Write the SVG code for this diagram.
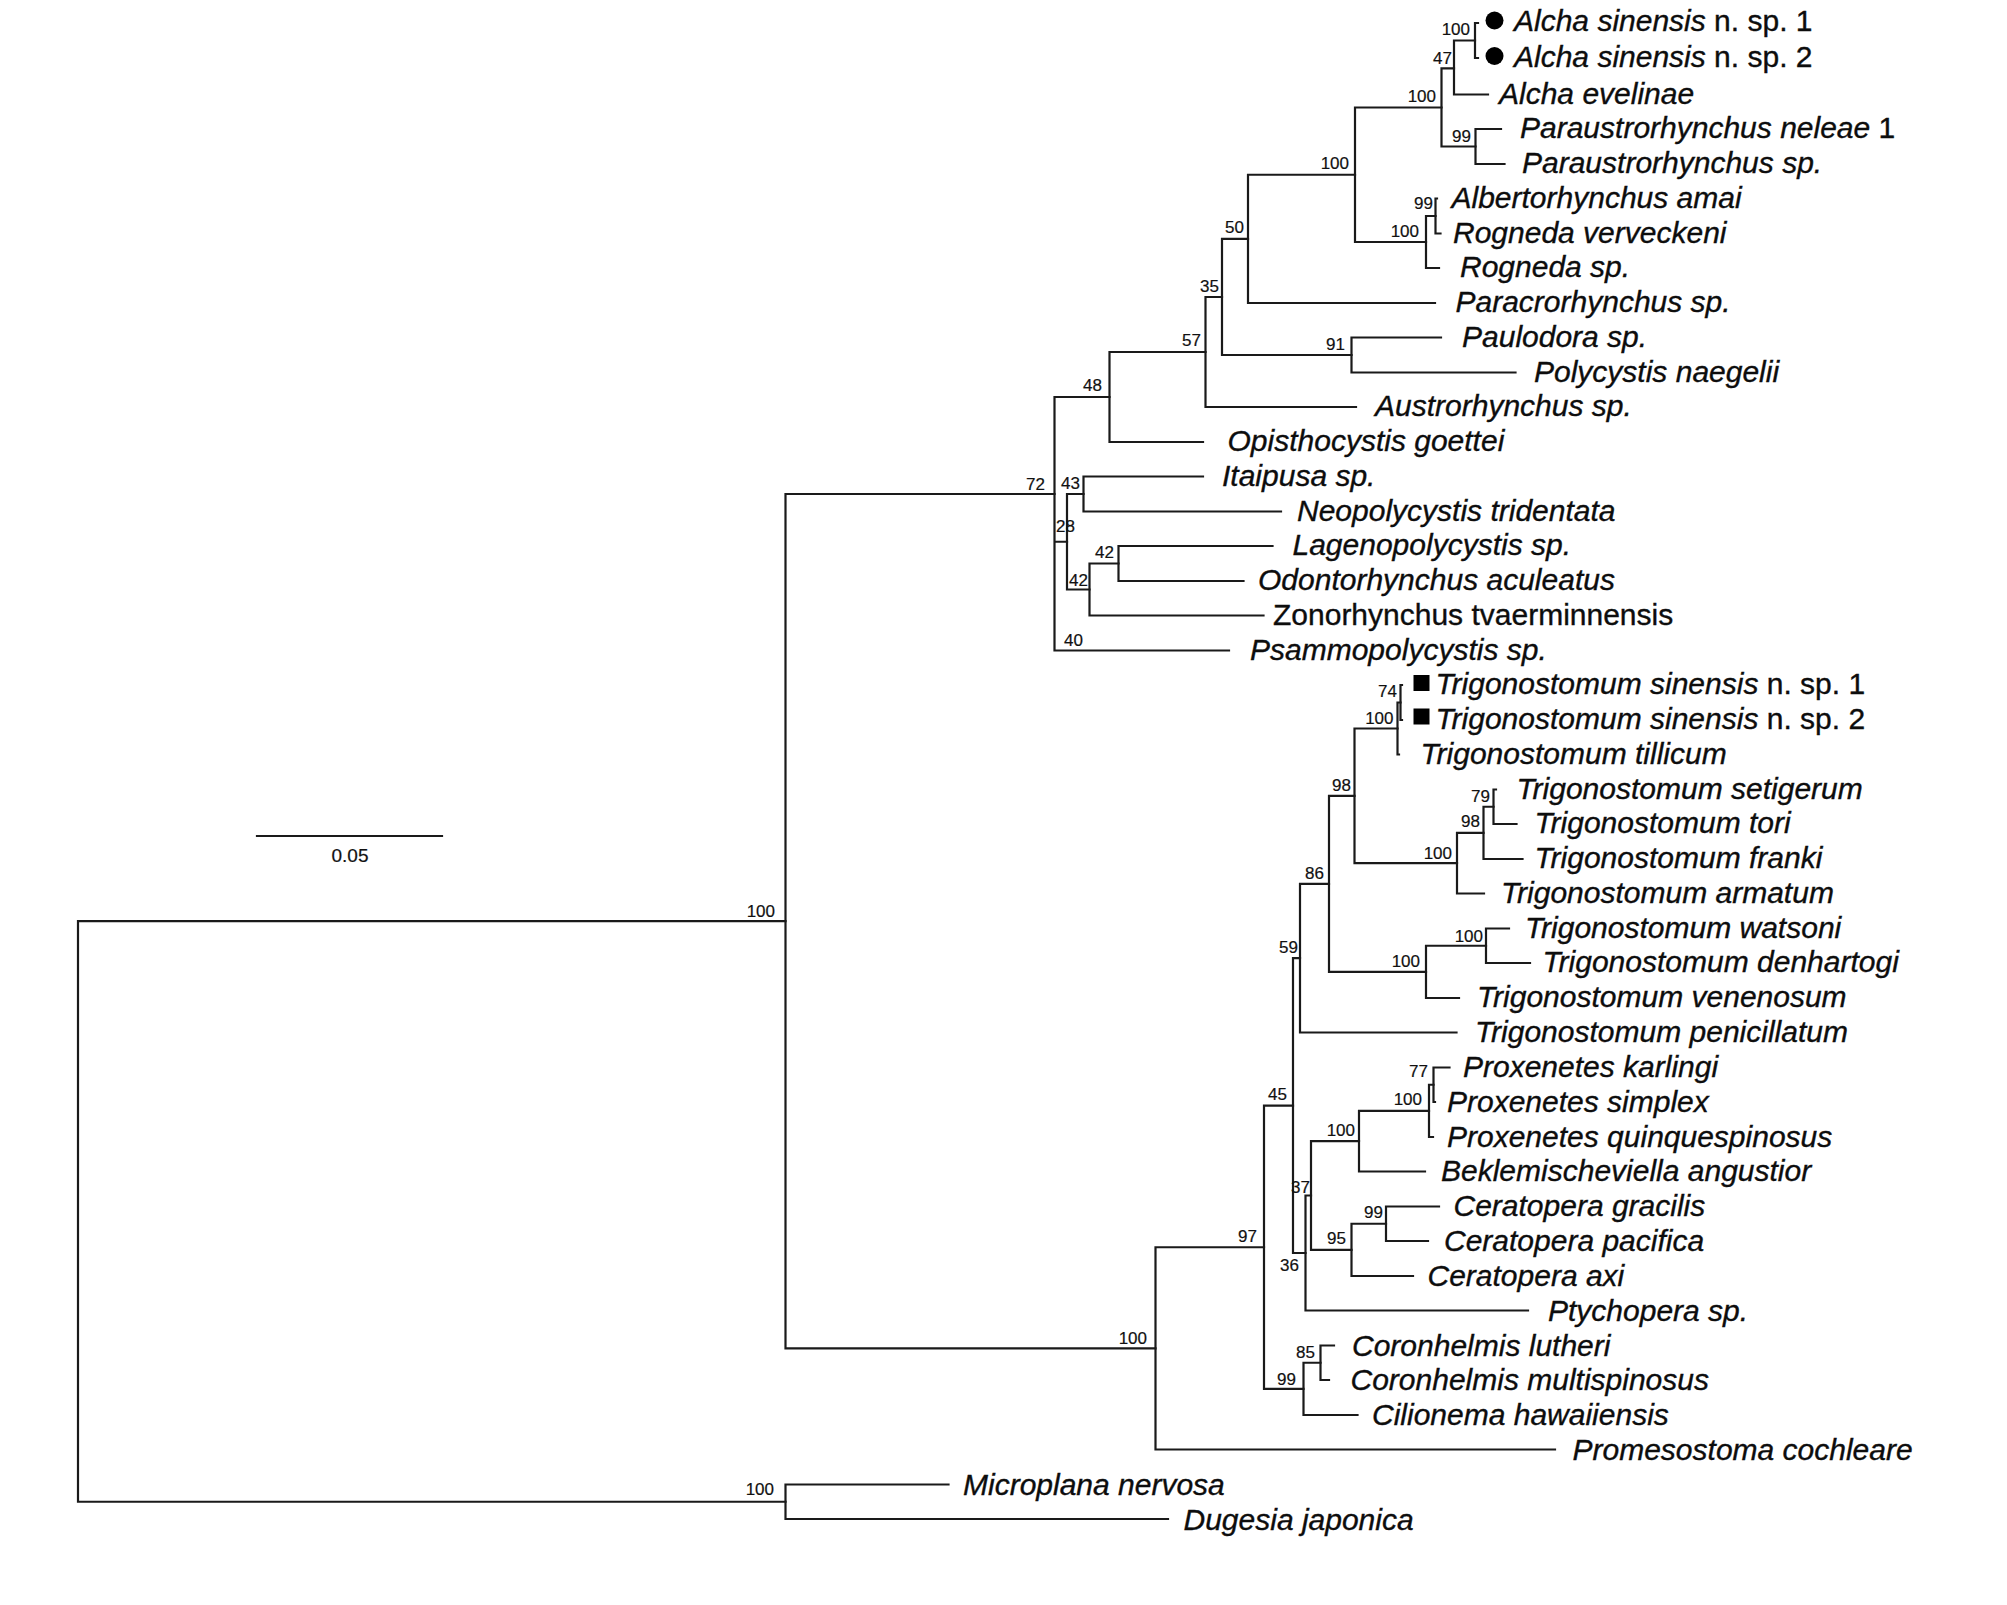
<svg xmlns="http://www.w3.org/2000/svg" width="2007" height="1605" viewBox="0 0 2007 1605">
<style>
.br{fill:none;stroke:#1a1a1a;stroke-width:2.2;stroke-linecap:square}
.tx{font-family:"Liberation Sans",Arial,sans-serif;font-size:30px;font-style:italic;fill:#0d0d0d;stroke:#0d0d0d;stroke-width:0.35}
.up{font-style:normal}
.bs{font-family:"Liberation Sans",Arial,sans-serif;font-size:17px;fill:#111;stroke:#111;stroke-width:0.2;text-anchor:end}
.sc{font-family:"Liberation Sans",Arial,sans-serif;font-size:19px;fill:#111;stroke:#111;stroke-width:0.2;text-anchor:middle}
.mk{fill:#000}
</style>
<rect width="2007" height="1605" fill="#fff"/>
<g id="connectors" class="br">
<path d="M78 921.2V1501.75M78 921.2H785.5M78 1501.75H785.5"/>
<path d="M785.5 1484.5V1519M785.5 1484.5H948.5M785.5 1519H1168"/>
<path d="M785.5 494V1348.4M785.5 494H1054.5M785.5 1348.4H1155.5"/>
<path d="M1054.5 397V650.5M1054.5 397H1109.5M1054.5 541.75H1067M1054.5 650.5H1229"/>
<path d="M1109.5 352V442M1109.5 352H1205.5M1109.5 442H1203"/>
<path d="M1205.5 297V407M1205.5 297H1222M1205.5 407H1356"/>
<path d="M1222 238.9V355M1222 238.9H1248M1222 355H1351.5"/>
<path d="M1351.5 337.5V372.5M1351.5 337.5H1441M1351.5 372.5H1515.5"/>
<path d="M1248 174.75V303M1248 174.75H1355M1248 303H1435"/>
<path d="M1355 107.5V242M1355 107.5H1441.5M1355 242H1426"/>
<path d="M1441.5 68.4V146.5M1441.5 68.4H1454M1441.5 146.5H1475.5"/>
<path d="M1454 40.5V94.5M1454 40.5H1475M1454 94.5H1488"/>
<path d="M1475 23V58M1475 23H1478M1475 58H1478"/>
<path d="M1475.5 129V164M1475.5 129H1501M1475.5 164H1504.5"/>
<path d="M1426 216V268M1426 216H1435.5M1426 268H1439"/>
<path d="M1435.5 198.5V233.5M1435.5 198.5H1437M1435.5 233.5H1440.5"/>
<path d="M1067 494V589.5M1067 494H1083.5M1067 589.5H1089.5"/>
<path d="M1083.5 476.5V511.5M1083.5 476.5H1203M1083.5 511.5H1281"/>
<path d="M1089.5 563.5V615.5M1089.5 563.5H1118.5M1089.5 615.5H1263.5"/>
<path d="M1118.5 546V581M1118.5 546H1272.5M1118.5 581H1243.5"/>
<path d="M1155.5 1247.25V1449.5M1155.5 1247.25H1264M1155.5 1449.5H1555"/>
<path d="M1264 1105.6V1388.9M1264 1105.6H1293M1264 1388.9H1303.5"/>
<path d="M1293 958.2V1253M1293 958.2H1300M1293 1253H1305.5"/>
<path d="M1300 883.9V1032.5M1300 883.9H1329M1300 1032.5H1456.5"/>
<path d="M1329 795.9V971.9M1329 795.9H1354.5M1329 971.9H1426"/>
<path d="M1354.5 728.5V863.2M1354.5 728.5H1397.5M1354.5 863.2H1457"/>
<path d="M1397.5 702.5V754.5M1397.5 702.5H1400.5M1397.5 754.5H1399"/>
<path d="M1400.5 685V720M1400.5 685H1402M1400.5 720H1402"/>
<path d="M1457 832.9V893.5M1457 832.9H1483.5M1457 893.5H1484"/>
<path d="M1483.5 806.75V859M1483.5 806.75H1493.5M1483.5 859H1522.5"/>
<path d="M1493.5 789.5V824M1493.5 789.5H1496M1493.5 824H1516.5"/>
<path d="M1426 945.75V998M1426 945.75H1486M1426 998H1459"/>
<path d="M1486 928.5V963M1486 928.5H1509M1486 963H1530"/>
<path d="M1305.5 1195.5V1310.5M1305.5 1195.5H1311M1305.5 1310.5H1528"/>
<path d="M1311 1141.2V1249.9M1311 1141.2H1359M1311 1249.9H1351.5"/>
<path d="M1359 1110.9V1171.5M1359 1110.9H1429M1359 1171.5H1425"/>
<path d="M1429 1084.75V1137M1429 1084.75H1433.5M1429 1137H1433"/>
<path d="M1433.5 1067.5V1102M1433.5 1067.5H1449.5M1433.5 1102H1435"/>
<path d="M1351.5 1223.75V1276M1351.5 1223.75H1386M1351.5 1276H1413"/>
<path d="M1386 1206.5V1241M1386 1206.5H1439M1386 1241H1428"/>
<path d="M1303.5 1362.75V1415M1303.5 1362.75H1320.5M1303.5 1415H1357.5"/>
<path d="M1320.5 1345.5V1380M1320.5 1345.5H1334M1320.5 1380H1329"/>
</g>
<g id="scale-bar">
<path class="br" d="M257 836H442"/>
<text class="sc" x="350" y="862">0.05</text>
</g>
<g id="support-values" class="bs">
<text x="1470" y="35">100</text>
<text x="1452" y="64">47</text>
<text x="1436" y="102">100</text>
<text x="1471" y="142">99</text>
<text x="1349" y="169">100</text>
<text x="1433" y="209">99</text>
<text x="1419" y="237">100</text>
<text x="1244" y="233">50</text>
<text x="1219" y="292">35</text>
<text x="1201" y="346">57</text>
<text x="1345" y="350">91</text>
<text x="1102" y="391">48</text>
<text x="1045" y="490">72</text>
<text x="1080" y="489">43</text>
<text x="1075" y="532">28</text>
<text x="1114" y="558">42</text>
<text x="1088" y="586">42</text>
<text x="1083" y="646">40</text>
<text x="1397" y="697">74</text>
<text x="1393.5" y="724">100</text>
<text x="1351" y="791">98</text>
<text x="1490" y="802">79</text>
<text x="1480" y="827">98</text>
<text x="1452" y="859">100</text>
<text x="1324" y="879">86</text>
<text x="1483" y="941.5">100</text>
<text x="1298" y="953">59</text>
<text x="1420" y="967">100</text>
<text x="1428" y="1077">77</text>
<text x="1422" y="1105">100</text>
<text x="1287" y="1100">45</text>
<text x="1355" y="1136">100</text>
<text x="1310" y="1193">37</text>
<text x="1383" y="1218">99</text>
<text x="1346" y="1244">95</text>
<text x="1257" y="1242">97</text>
<text x="1299" y="1271">36</text>
<text x="1315" y="1358">85</text>
<text x="1296" y="1385">99</text>
<text x="1147" y="1344">100</text>
<text x="775" y="917">100</text>
<text x="774" y="1495">100</text>
</g>
<g id="taxon-alcha-sinensis-1"><circle class="mk" cx="1494.5" cy="20.5" r="9"/><text class="tx" x="1514" y="31">Alcha sinensis<tspan class="up"> n. sp. 1</tspan></text></g>
<g id="taxon-alcha-sinensis-2"><circle class="mk" cx="1494.5" cy="56" r="9"/><text class="tx" x="1514" y="67">Alcha sinensis<tspan class="up"> n. sp. 2</tspan></text></g>
<g id="taxon-alcha-evelinae"><text class="tx" x="1499" y="103.5">Alcha evelinae</text></g>
<g id="taxon-paraustrorhynchus-neleae"><text class="tx" x="1520" y="138">Paraustrorhynchus neleae<tspan class="up"> 1</tspan></text></g>
<g id="taxon-paraustrorhynchus-sp"><text class="tx" x="1522" y="173">Paraustrorhynchus sp.</text></g>
<g id="taxon-albertorhynchus-amai"><text class="tx" x="1451.5" y="207.5">Albertorhynchus amai</text></g>
<g id="taxon-rogneda-verveckeni"><text class="tx" x="1453" y="242.5">Rogneda verveckeni</text></g>
<g id="taxon-rogneda-sp"><text class="tx" x="1460" y="277">Rogneda sp.</text></g>
<g id="taxon-paracrorhynchus-sp"><text class="tx" x="1455.5" y="312">Paracrorhynchus sp.</text></g>
<g id="taxon-paulodora-sp"><text class="tx" x="1462" y="346.5">Paulodora sp.</text></g>
<g id="taxon-polycystis-naegelii"><text class="tx" x="1534" y="381.5">Polycystis naegelii</text></g>
<g id="taxon-austrorhynchus-sp"><text class="tx" x="1375" y="416">Austrorhynchus sp.</text></g>
<g id="taxon-opisthocystis-goettei"><text class="tx" x="1227.5" y="451">Opisthocystis goettei</text></g>
<g id="taxon-itaipusa-sp"><text class="tx" x="1222" y="485.5">Itaipusa sp.</text></g>
<g id="taxon-neopolycystis-tridentata"><text class="tx" x="1297" y="520.5">Neopolycystis tridentata</text></g>
<g id="taxon-lagenopolycystis-sp"><text class="tx" x="1292.5" y="555">Lagenopolycystis sp.</text></g>
<g id="taxon-odontorhynchus-aculeatus"><text class="tx" x="1258" y="590">Odontorhynchus aculeatus</text></g>
<g id="taxon-zonorhynchus-tvaerminnensis"><text class="tx up" x="1273" y="624.5">Zonorhynchus tvaerminnensis</text></g>
<g id="taxon-psammopolycystis-sp"><text class="tx" x="1250" y="659.5">Psammopolycystis sp.</text></g>
<g id="taxon-trigonostomum-sinensis-1"><rect class="mk" x="1413.5" y="675" width="16" height="16"/><text class="tx" x="1435.5" y="694">Trigonostomum sinensis<tspan class="up"> n. sp. 1</tspan></text></g>
<g id="taxon-trigonostomum-sinensis-2"><rect class="mk" x="1413.5" y="708.5" width="16" height="16"/><text class="tx" x="1435.5" y="729">Trigonostomum sinensis<tspan class="up"> n. sp. 2</tspan></text></g>
<g id="taxon-trigonostomum-tillicum"><text class="tx" x="1420.5" y="763.5">Trigonostomum tillicum</text></g>
<g id="taxon-trigonostomum-setigerum"><text class="tx" x="1516.5" y="798.5">Trigonostomum setigerum</text></g>
<g id="taxon-trigonostomum-tori"><text class="tx" x="1534.5" y="833">Trigonostomum tori</text></g>
<g id="taxon-trigonostomum-franki"><text class="tx" x="1534.5" y="868">Trigonostomum franki</text></g>
<g id="taxon-trigonostomum-armatum"><text class="tx" x="1501" y="902.5">Trigonostomum armatum</text></g>
<g id="taxon-trigonostomum-watsoni"><text class="tx" x="1525" y="937.5">Trigonostomum watsoni</text></g>
<g id="taxon-trigonostomum-denhartogi"><text class="tx" x="1542.5" y="972">Trigonostomum denhartogi</text></g>
<g id="taxon-trigonostomum-venenosum"><text class="tx" x="1477" y="1007">Trigonostomum venenosum</text></g>
<g id="taxon-trigonostomum-penicillatum"><text class="tx" x="1475" y="1042">Trigonostomum penicillatum</text></g>
<g id="taxon-proxenetes-karlingi"><text class="tx" x="1463" y="1077">Proxenetes karlingi</text></g>
<g id="taxon-proxenetes-simplex"><text class="tx" x="1447" y="1111.5">Proxenetes simplex</text></g>
<g id="taxon-proxenetes-quinquespinosus"><text class="tx" x="1447" y="1146.5">Proxenetes quinquespinosus</text></g>
<g id="taxon-beklemischeviella-angustior"><text class="tx" x="1441" y="1181">Beklemischeviella angustior</text></g>
<g id="taxon-ceratopera-gracilis"><text class="tx" x="1453.5" y="1216">Ceratopera gracilis</text></g>
<g id="taxon-ceratopera-pacifica"><text class="tx" x="1444" y="1250.5">Ceratopera pacifica</text></g>
<g id="taxon-ceratopera-axi"><text class="tx" x="1427.5" y="1285.5">Ceratopera axi</text></g>
<g id="taxon-ptychopera-sp"><text class="tx" x="1548" y="1320.5">Ptychopera sp.</text></g>
<g id="taxon-coronhelmis-lutheri"><text class="tx" x="1352" y="1355.5">Coronhelmis lutheri</text></g>
<g id="taxon-coronhelmis-multispinosus"><text class="tx" x="1350.5" y="1390">Coronhelmis multispinosus</text></g>
<g id="taxon-cilionema-hawaiiensis"><text class="tx" x="1372" y="1425">Cilionema hawaiiensis</text></g>
<g id="taxon-promesostoma-cochleare"><text class="tx" x="1572.5" y="1460">Promesostoma cochleare</text></g>
<g id="taxon-microplana-nervosa"><text class="tx" x="963" y="1495">Microplana nervosa</text></g>
<g id="taxon-dugesia-japonica"><text class="tx" x="1183.5" y="1529.5">Dugesia japonica</text></g>
</svg>
